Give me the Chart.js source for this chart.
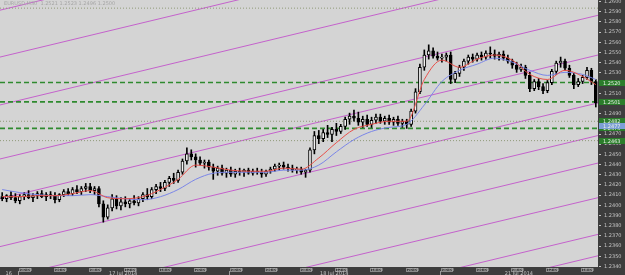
<!DOCTYPE html>
<html lang="en">
<head>
<meta charset="UTF-8">
<title>EURUSD M30</title>
<script src="https://cdn.jsdelivr.net/npm/chart.js"></script>
<style>
  html, body { margin: 0; padding: 0; background: #3d3d3d; }
  #wrap { width: 625px; height: 275px; }
</style>
</head>
<body>
<div id="wrap"><canvas id="priceChart"></canvas></div>
<script>
// 30 minute bars, bar 0 = 16 Jul 22:00
const opens = [
  1.2408,1.2406,1.2409,1.2407,1.2404,1.2408,1.2410,1.2407,1.2409,1.2411,
  1.2408,1.2410,1.2409,1.2405,1.2410,1.2413,1.2411,1.2415,1.2413,1.2416,
  1.2418,1.2414,1.2416,1.2401,1.2388,1.2397,1.2406,1.2399,1.2403,1.2401,
  1.2404,1.2402,1.2406,1.2410,1.2408,1.2415,1.2418,1.2416,1.2422,1.2426,
  1.2424,1.2432,1.2443,1.2450,1.2447,1.2444,1.2441,1.2442,1.2437,1.2433,
  1.2436,1.2431,1.2434,1.2430,1.2433,1.2432,1.2434,1.2431,1.2433,1.2432,
  1.2430,1.2433,1.2435,1.2438,1.2439,1.2437,1.2436,1.2434,1.2435,1.2432,
  1.2434,1.2454,1.2468,1.2465,1.2471,1.2469,1.2474,1.2472,1.2477,1.2484,
  1.2487,1.2485,1.2481,1.2484,1.2479,1.2483,1.2486,1.2482,1.2485,1.2481,
  1.2484,1.2480,1.2482,1.2479,1.2492,1.2511,1.2535,1.2547,1.2551,1.2546,
  1.2544,1.2545,1.2547,1.2523,1.2529,1.2535,1.2541,1.2545,1.2543,1.2547,
  1.2545,1.2549,1.2548,1.2546,1.2548,1.2544,1.2541,1.2537,1.2533,1.2535,
  1.2527,1.2514,1.2521,1.2516,1.2512,1.2520,1.2531,1.2539,1.2541,1.2534,
  1.2527,1.2518,1.2521,1.2525,1.2532,1.2521
];
const highs = [
  1.2412,1.2410,1.2413,1.2411,1.2410,1.2412,1.2414,1.2411,1.2413,1.2414,
  1.2412,1.2413,1.2412,1.2411,1.2415,1.2416,1.2417,1.2419,1.2418,1.2421,
  1.2421,1.2418,1.2418,1.2404,1.2400,1.2410,1.2409,1.2407,1.2408,1.2406,
  1.2409,1.2408,1.2412,1.2416,1.2417,1.2420,1.2422,1.2424,1.2428,1.2431,
  1.2434,1.2445,1.2456,1.2454,1.2450,1.2447,1.2444,1.2444,1.2440,1.2438,
  1.2439,1.2436,1.2437,1.2435,1.2436,1.2435,1.2436,1.2435,1.2436,1.2435,
  1.2434,1.2437,1.2440,1.2441,1.2442,1.2440,1.2439,1.2437,1.2437,1.2435,
  1.2456,1.2472,1.2473,1.2474,1.2478,1.2476,1.2480,1.2479,1.2486,1.2490,
  1.2493,1.2491,1.2487,1.2488,1.2486,1.2489,1.2489,1.2487,1.2488,1.2486,
  1.2487,1.2484,1.2484,1.2494,1.2514,1.2538,1.2552,1.2557,1.2554,1.2550,
  1.2548,1.2549,1.2550,1.2531,1.2537,1.2543,1.2547,1.2548,1.2549,1.2550,
  1.2551,1.2555,1.2552,1.2550,1.2551,1.2547,1.2543,1.2540,1.2538,1.2537,
  1.2530,1.2523,1.2524,1.2519,1.2522,1.2533,1.2541,1.2545,1.2543,1.2537,
  1.2529,1.2524,1.2527,1.2535,1.2534,1.2523
];
const lows = [
  1.2404,1.2403,1.2405,1.2402,1.2401,1.2405,1.2406,1.2403,1.2406,1.2407,
  1.2404,1.2406,1.2402,1.2403,1.2408,1.2409,1.2409,1.2411,1.2410,1.2413,
  1.2412,1.2410,1.2398,1.2383,1.2386,1.2394,1.2396,1.2395,1.2398,1.2397,
  1.2400,1.2399,1.2403,1.2405,1.2406,1.2411,1.2413,1.2414,1.2418,1.2421,
  1.2422,1.2430,1.2440,1.2444,1.2437,1.2439,1.2436,1.2434,1.2425,1.2429,
  1.2429,1.2427,1.2428,1.2427,1.2429,1.2428,1.2430,1.2429,1.2430,1.2427,
  1.2428,1.2431,1.2433,1.2434,1.2435,1.2433,1.2432,1.2431,1.2430,1.2427,
  1.2432,1.2450,1.2460,1.2462,1.2466,1.2462,1.2468,1.2470,1.2474,1.2479,
  1.2482,1.2478,1.2476,1.2477,1.2476,1.2480,1.2480,1.2479,1.2479,1.2478,
  1.2478,1.2476,1.2475,1.2477,1.2490,1.2509,1.2532,1.2543,1.2544,1.2542,
  1.2540,1.2541,1.2519,1.2520,1.2526,1.2532,1.2538,1.2540,1.2541,1.2542,
  1.2543,1.2544,1.2543,1.2542,1.2542,1.2539,1.2534,1.2530,1.2531,1.2524,
  1.2511,1.2512,1.2513,1.2509,1.2510,1.2518,1.2528,1.2535,1.2532,1.2525,
  1.2514,1.2516,1.2519,1.2523,1.2518,1.2496
];
const closes = [
  1.2406,1.2409,1.2407,1.2404,1.2408,1.2410,1.2407,1.2409,1.2411,1.2408,
  1.2410,1.2409,1.2405,1.2410,1.2413,1.2411,1.2415,1.2413,1.2416,1.2418,
  1.2414,1.2416,1.2401,1.2388,1.2397,1.2406,1.2399,1.2403,1.2401,1.2404,
  1.2402,1.2406,1.2410,1.2408,1.2415,1.2418,1.2416,1.2422,1.2426,1.2424,
  1.2432,1.2443,1.2450,1.2447,1.2444,1.2441,1.2442,1.2437,1.2433,1.2436,
  1.2431,1.2434,1.2430,1.2433,1.2432,1.2434,1.2431,1.2433,1.2432,1.2430,
  1.2433,1.2435,1.2438,1.2439,1.2437,1.2436,1.2434,1.2435,1.2432,1.2434,
  1.2454,1.2468,1.2465,1.2471,1.2469,1.2474,1.2472,1.2477,1.2484,1.2487,
  1.2485,1.2481,1.2484,1.2479,1.2483,1.2486,1.2482,1.2485,1.2481,1.2484,
  1.2480,1.2482,1.2479,1.2492,1.2511,1.2535,1.2547,1.2551,1.2546,1.2544,
  1.2545,1.2547,1.2523,1.2529,1.2535,1.2541,1.2545,1.2543,1.2547,1.2545,
  1.2549,1.2548,1.2546,1.2548,1.2544,1.2541,1.2537,1.2533,1.2535,1.2527,
  1.2514,1.2521,1.2516,1.2512,1.2520,1.2531,1.2539,1.2541,1.2534,1.2527,
  1.2518,1.2521,1.2525,1.2532,1.2521,1.2500
];

// moving averages, read every 4th bar
const maBars = [0,4,8,12,16,20,24,28,32,36,40,44,48,52,56,60,64,68,72,76,80,84,88,92,96,100,104,108,112,116,120,124,128,132,135];
const fastMA = [1.2408,1.2408,1.2409,1.2409,1.2411,1.2414,1.2407,1.2406,1.2408,1.2415,1.2425,1.2439,1.2437,1.2434,1.2433,1.2433,1.2436,1.2435,1.2446,1.2461,1.2474,1.2479,1.2482,1.2482,1.2523,1.2542,1.2535,1.2543,1.2547,1.2542,1.2528,1.2523,1.2532,1.2526,1.2518];
const slowMA = [1.2415,1.2412,1.2410,1.2409,1.2409,1.2410,1.2408,1.2406,1.2405,1.2408,1.2415,1.2425,1.2431,1.2432,1.2432,1.2432,1.2434,1.2434,1.2439,1.2452,1.2464,1.2472,1.2476,1.2479,1.2498,1.2521,1.2532,1.2538,1.2544,1.2540,1.2532,1.2527,1.2530,1.2528,1.2523];

// trend lines: price at the left edge and at the right edge of the window
const trendStart = [1.2591,1.2545,1.2498,1.2445,1.2406,1.2359,1.2327,1.2300,1.2267,1.2230,1.2209];
const trendEnd   = [1.2732,1.2686,1.2639,1.2586,1.2547,1.2500,1.2468,1.2441,1.2407,1.2371,1.2350];

const levelPrices = [1.2520, 1.2501, 1.2475];
const dottedPrices = [1.2593, 1.2482, 1.2463];
const tagPrices = [1.2520, 1.2501, 1.2482, 1.2475, 1.2463];
const bidPrice = 1.2477;

const priceTicks = [];
for (let k = 0; k <= 26; k++) priceTicks.push(1.2340 + k * 0.001);

const timeLabels = ['00:00','04:00','08:00','12:00','16:00','20:00'];
const dayLabels = ['16', '17 Jul 2014', '18 Jul 2014', '21 Jul 2014'];
const dayStarts = [-0.5, 3.5, 51.5, 99.5, 135.5];

const priceMax = 1.2601;
const priceMin = 1.2339;

const n = closes.length;
const wickData = closes.map((c, i) => ({ x: i, y: [lows[i], highs[i]] }));
const bodyData = closes.map((c, i) => ({ x: i, y: [Math.min(opens[i], c), Math.max(opens[i], c)] }));
const bodyColors = closes.map((c, i) => c >= opens[i] ? '#f2f2f2' : '#000000');

const edgeL = -0.5, edgeR = n - 0.5;
const datasets = [];

trendStart.forEach((p, k) => {
  datasets.push({
    type: 'line', data: [{ x: edgeL, y: p }, { x: edgeR, y: trendEnd[k] }],
    borderColor: '#c462cc', borderWidth: 1, pointRadius: 0, order: 20
  });
});
levelPrices.forEach(p => {
  datasets.push({
    type: 'line', data: [{ x: edgeL, y: p }, { x: edgeR, y: p }],
    borderColor: '#2f8a2f', borderWidth: 1.6, borderDash: [5, 3], pointRadius: 0, order: 15
  });
});
dottedPrices.forEach(p => {
  datasets.push({
    type: 'line', data: [{ x: edgeL, y: p }, { x: edgeR, y: p }],
    borderColor: '#8f9a78', borderWidth: 1, borderDash: [1, 2], pointRadius: 0, order: 15
  });
});

datasets.push({
  type: 'bar', data: wickData, backgroundColor: '#000', barThickness: 1,
  grouped: false, order: 6
});
datasets.push({
  type: 'bar', data: bodyData, backgroundColor: bodyColors, borderColor: '#000',
  borderWidth: 1, borderSkipped: false, barThickness: 3, minBarLength: 1,
  grouped: false, order: 5
});

datasets.push({
  type: 'line', data: maBars.map((b, k) => ({ x: b, y: slowMA[k] })),
  borderColor: '#7b86e8', borderWidth: 1, pointRadius: 0,
  cubicInterpolationMode: 'monotone', order: 2
});
datasets.push({
  type: 'line', data: maBars.map((b, k) => ({ x: b, y: fastMA[k] })),
  borderColor: '#e8504a', borderWidth: 1, pointRadius: 0,
  cubicInterpolationMode: 'monotone', order: 1
});

const decor = {
  id: 'decor',
  beforeDraw(chart) {
    const { ctx, chartArea: a } = chart;
    ctx.save();
    ctx.fillStyle = '#3d3d3d';
    ctx.fillRect(0, 0, chart.width, chart.height);
    ctx.fillStyle = '#d4d4d4';
    ctx.fillRect(a.left, a.top, a.right - a.left, a.bottom - a.top);
    ctx.restore();
  },
  afterDraw(chart) {
    const { ctx, chartArea: a, scales: { x, y } } = chart;
    ctx.save();
    // caption
    ctx.font = '5px "DejaVu Sans"';
    ctx.fillStyle = '#a6a6a6';
    ctx.textBaseline = 'middle';
    ctx.fillText('EURUSD,M30  1.2521 1.2523 1.2496 1.2500', 4, 4);

    // price scale labels
    ctx.fillStyle = '#c4c4c4';
    priceTicks.forEach(p => {
      const py = y.getPixelForValue(p);
      ctx.fillRect(a.right + 1, Math.round(py), 2, 1);
      ctx.fillText(p.toFixed(4), a.right + 6, py + 0.5);
    });

    // time boxes every 4 hours
    ctx.font = '4px "DejaVu Sans"';
    for (let b = dayStarts[1], k = 0; b < edgeR; b += 8, k++) {
      const px = Math.round(x.getPixelForValue(b));
      ctx.strokeStyle = '#8a8a8a';
      ctx.lineWidth = 1;
      ctx.strokeRect(px + 1.5, a.bottom + 1.5, 11, 3);
      ctx.fillStyle = '#bdbdbd';
      ctx.fillText(timeLabels[k % 6], px + 2.5, a.bottom + 3.2);
    }
    // day separators and labels
    ctx.font = '5px "DejaVu Sans"';
    ctx.textAlign = 'center';
    for (let d = 0; d < dayLabels.length; d++) {
      const x0 = x.getPixelForValue(Math.max(dayStarts[d], edgeL));
      const x1 = x.getPixelForValue(Math.min(dayStarts[d + 1], edgeR));
      if (d > 0) {
        ctx.fillStyle = '#9a9a9a';
        ctx.fillRect(Math.round(x0), a.bottom + 4, 1, 4);
      }
      ctx.fillStyle = '#c4c4c4';
      ctx.fillText(dayLabels[d], (x0 + x1) / 2, a.bottom + 6.3);
    }
    ctx.textAlign = 'left';

    // price tags on the right scale
    const tag = (p, bg) => {
      const py = Math.round(y.getPixelForValue(p));
      ctx.fillStyle = bg;
      ctx.fillRect(a.right + 1, py - 3, 26, 6);
      ctx.fillStyle = '#e8f0e8';
      ctx.fillText(p.toFixed(4), a.right + 5, py + 0.3);
    };
    ctx.font = '5px "DejaVu Sans"';
    tagPrices.forEach(p => tag(p, '#2b7d2b'));
    tag(bidPrice, '#7d9fd6');
    ctx.restore();
  }
};

new Chart(document.getElementById('priceChart'), {
  type: 'bar',
  data: { datasets },
  options: {
    responsive: true,
    maintainAspectRatio: false,
    devicePixelRatio: 1,
    animation: false,
    layout: { padding: { left: 0, top: 0, right: 0, bottom: 8 } },
    plugins: { legend: { display: false }, tooltip: { enabled: false } },
    scales: {
      x: {
        type: 'linear', min: edgeL, max: edgeR, display: false, offset: false
      },
      y: {
        position: 'right', min: priceMin, max: priceMax,
        afterFit: s => { s.width = 27; },
        grid: { display: false }, border: { display: false },
        ticks: { display: false }
      }
    }
  },
  plugins: [decor]
});
</script>
</body>
</html>
